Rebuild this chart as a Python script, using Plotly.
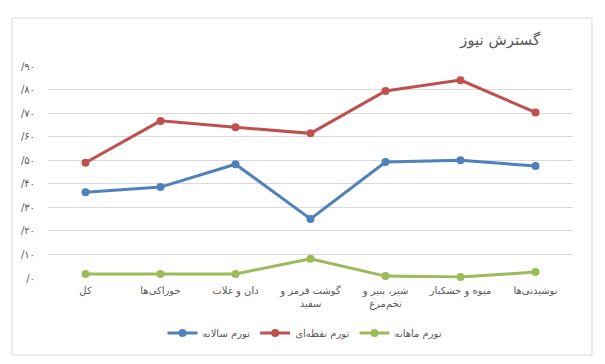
import plotly.graph_objects as go

categories = ["کل", "خوراکی‌ها", "دان و غلات", "گوشت قرمز و<br>سفید", "شیر، پنیر و<br>تخم‌مرغ", "میوه و خشکبار", "نوشیدنی‌ها"]
annual = [36.4, 38.6, 48.3, 25.1, 49.2, 50.0, 47.5]
point = [48.9, 66.7, 64.0, 61.4, 79.4, 84.0, 70.3]
monthly = [1.7, 1.7, 1.7, 8.2, 0.8, 0.4, 2.5]
series_names = ["تورم سالانه", "تورم نقطه‌ای", "تورم ماهانه"]
tick_vals = [0, 10, 20, 30, 40, 50, 60, 70, 80, 90]
tick_text = ["/۰", "/۱۰", "/۲۰", "/۳۰", "/۴۰", "/۵۰", "/۶۰", "/۷۰", "/۸۰", "/۹۰"]
title_text = "گسترش نیوز"

colors = ["#4F81BD", "#C0504D", "#9BBB59"]
font_family = "DejaVu Sans, sans-serif"

# page body has an 8px default margin
OFF = 8
W, H = 605 - OFF, 364 - OFF
# desired plot area in screen pixels
sL, sR, sT, sB = 48, 573, 66, 278
L = sL - OFF
T = sT - OFF
R = W - (sR - OFF)
B = H - (sB - OFF)
pw, ph = W - L - R, H - T - B

def px(x):
    return (x - OFF - L) / pw

def py(y):
    return (H - B - (y - OFF)) / ph

fig = go.Figure()
for name, vals, c in zip(series_names, [annual, point, monthly], colors):
    fig.add_trace(go.Scatter(
        x=categories, y=vals, name=name, mode="lines+markers",
        line=dict(color=c, width=3),
        marker=dict(color=c, size=8),
        cliponaxis=False,
    ))

fig.add_shape(type="rect", xref="paper", yref="paper",
              x0=px(12), x1=px(592), y0=py(355), y1=py(18),
              line=dict(color="#D9D9D9", width=1), layer="below")

fig.update_layout(
    width=W, height=H,
    margin=dict(l=L, r=R, t=T, b=B),
    paper_bgcolor="white", plot_bgcolor="white",
    font=dict(family=font_family, color="#595959", size=10),
    title=dict(text=title_text, x=(500 - OFF) / W, xanchor="center",
               y=1 - (40 - OFF) / H, yanchor="middle",
               font=dict(size=15, color="#595959", family=font_family)),
    showlegend=True,
    legend=dict(orientation="h", x=px(305), xanchor="center", y=py(333), yanchor="middle",
                font=dict(size=10, color="#595959"), itemwidth=30, traceorder="normal"),
    xaxis=dict(range=[-0.5, 6.5], showgrid=False, showline=False, zeroline=False, ticks="",
               tickfont=dict(size=10, color="#595959"), fixedrange=True,
               ticklabelstandoff=5),
    yaxis=dict(range=[0, 90], tickvals=tick_vals, ticktext=tick_text, showgrid=True,
               gridcolor="#D9D9D9", gridwidth=1, zeroline=False, showline=False,
               tickfont=dict(size=10, color="#595959"), ticklabelstandoff=12),
)

fig.write_html("out.html")
